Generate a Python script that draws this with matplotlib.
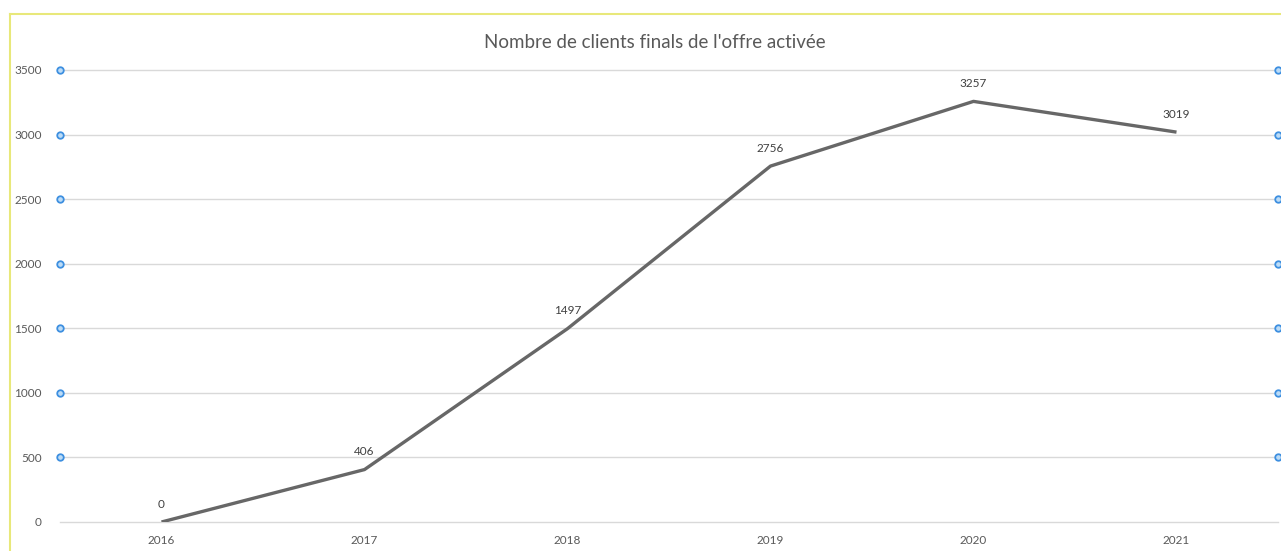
import matplotlib
matplotlib.use('Agg')
import matplotlib.pyplot as plt
from matplotlib.lines import Line2D

# Data
years = ['2016', '2017', '2018', '2019', '2020', '2021']
clients = [0, 406, 1497, 2756, 3257, 3019]
y_ticks = [0, 500, 1000, 1500, 2000, 2500, 3000, 3500]

plt.rcParams['font.family'] = ['Lato', 'DejaVu Sans']

fig = plt.figure(figsize=(12.81, 5.51), dpi=100)
ax = fig.add_axes([60 / 1281, 29 / 551, 1218 / 1281, 452 / 551])

x = list(range(len(years)))
ax.plot(x, clients, color='#676767', lw=2.4, solid_capstyle='butt', zorder=3)

for xi, v in zip(x, clients):
    ax.annotate(str(v), (xi, v), xytext=(0, 9), textcoords='offset points',
                ha='center', va='bottom', fontsize=8.5, color='#404040')

ax.set_xlim(-0.5, len(years) - 0.5)
ax.set_ylim(0, 3500)
ax.set_xticks(x)
ax.set_xticklabels(years)
ax.set_yticks(y_ticks)
ax.tick_params(axis='both', length=0, labelsize=8.5, labelcolor='#595959')
ax.tick_params(axis='y', pad=13)
ax.tick_params(axis='x', pad=9)
ax.grid(axis='y', color='#d9d9d9', lw=1)
for gl in ax.get_ygridlines():
    gl.set_clip_on(False)
ax.set_axisbelow(True)
for s in ax.spines.values():
    s.set_visible(False)

# selection handles on gridlines (Excel screenshot)
handles_y = [t for t in y_ticks if t > 0]
for xe in ax.get_xlim():
    ax.scatter([xe] * len(handles_y), handles_y, s=22, facecolor='#bcdcf7',
               edgecolor='#3d8fe0', linewidths=1.3, clip_on=False, zorder=4)

fig.text(655 / 1281, 1 - 42 / 551, "Nombre de clients finals de l'offre activée",
         ha='center', va='center', fontsize=13.5, color='#595959')

# chart-area border
border = '#e8e87a'
fig.add_artist(Line2D([10 / 1281, 1], [1 - 14 / 551] * 2, color=border, lw=1.5))
fig.add_artist(Line2D([10 / 1281] * 2, [0, 1 - 14 / 551], color=border, lw=1.5))

fig.savefig('out.png', dpi=100)
